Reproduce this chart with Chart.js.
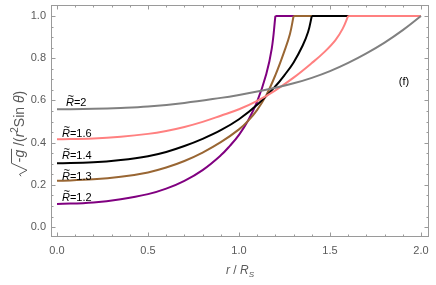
<!DOCTYPE html>
<html>
<head>
<meta charset="utf-8">
<script src="https://cdn.jsdelivr.net/npm/chart.js@4.4.0/dist/chart.umd.min.js"></script>
<style>
  html, body { margin: 0; padding: 0; background: #fff; }
  #wrap { width: 436px; height: 285px; }
</style>
</head>
<body>
<div id="wrap"><canvas id="myChart" width="436" height="285"></canvas></div>
<script>
// values (r / R_S , sqrt(-g)/(r^2 sin th))
const rPurple = [0, 0.2, 0.35, 0.5, 0.6, 0.7, 0.8, 0.9, 0.95, 1.0, 1.05, 1.1, 1.15, 1.18, 1.2, 2.0];
const vPurple = [0.109, 0.117, 0.132, 0.156, 0.182, 0.219, 0.27, 0.34, 0.385, 0.437, 0.505, 0.595, 0.725, 0.845, 1.0, 1.0];

const rBrown = [0, 0.2, 0.35, 0.5, 0.6, 0.7, 0.8, 0.9, 1.0, 1.05, 1.1, 1.15, 1.2, 1.25, 1.28, 1.3, 2.0];
const vBrown = [0.219, 0.226, 0.238, 0.259, 0.282, 0.313, 0.353, 0.402, 0.463, 0.503, 0.555, 0.625, 0.72, 0.835, 0.915, 1.0, 1.0];

const rBlack = [0, 0.2, 0.35, 0.5, 0.6, 0.7, 0.8, 0.9, 1.0, 1.1, 1.2, 1.25, 1.3, 1.35, 1.38, 1.4, 2.0];
const vBlack = [0.302, 0.307, 0.318, 0.336, 0.356, 0.384, 0.418, 0.459, 0.511, 0.579, 0.667, 0.72, 0.78, 0.86, 0.925, 1.0, 1.0];

const rPink = [0, 0.2, 0.35, 0.5, 0.6, 0.7, 0.8, 0.9, 1.0, 1.1, 1.2, 1.3, 1.4, 1.47, 1.53, 1.57, 1.6, 2.0];
const vPink = [0.416, 0.42, 0.428, 0.4415, 0.4555, 0.4745, 0.4985, 0.5275, 0.558, 0.598, 0.648, 0.708, 0.777, 0.83, 0.886, 0.94, 1.0, 1.0];

const rGray = [0, 0.2, 0.35, 0.5, 0.7, 0.9, 1.0, 1.1, 1.2, 1.3, 1.4, 1.5, 1.6, 1.7, 1.8, 1.9, 2.0];
const vGray = [0.558, 0.56, 0.564, 0.571, 0.588, 0.612, 0.626, 0.642, 0.66, 0.681, 0.707, 0.739, 0.778, 0.823, 0.874, 0.933, 1.0];

const xTicks = [0, 0.5, 1.0, 1.5, 2.0];
const yTicks = [0, 0.2, 0.4, 0.6, 0.8, 1.0];

const curveLabels = ['2', '1.6', '1.4', '1.3', '1.2'];

const pts = (xs, ys) => xs.map((x, i) => ({ x: x, y: ys[i] }));

const series = [
  { data: pts(rGray, vGray), color: '#808080' },
  { data: pts(rPink, vPink), color: '#ff8080' },
  { data: pts(rBlack, vBlack), color: '#000000' },
  { data: pts(rBrown, vBrown), color: '#996633' },
  { data: pts(rPurple, vPurple), color: '#800080' }
];

// each curve: smooth rising part up to where it first hits 1, then straight plateau
let datasets = [];
series.forEach(s => {
  let k = s.data.findIndex(p => p.y >= 1);
  datasets.push({ data: s.data.slice(0, k + 1), borderColor: s.color, borderWidth: 2,
                  pointRadius: 0, fill: false, tension: 0.4 });
  if (k < s.data.length - 1) {
    datasets.push({ data: s.data.slice(k), borderColor: s.color, borderWidth: 2,
                    pointRadius: 0, fill: false, tension: 0 });
  }
});

const labelPos = [[66, 106], [62, 137], [62, 159], [62, 180], [62, 201]];

const framePlugin = {
  id: 'frame',
  afterDraw(chart) {
    const c = chart.ctx;
    const a = chart.chartArea;
    const xs = chart.scales.x, ys = chart.scales.y;
    c.save();
    c.strokeStyle = '#9a9a9a';
    c.lineWidth = 1;
    c.strokeRect(a.left + 0.5, a.top + 0.5, a.right - a.left - 1, a.bottom - a.top - 1);
    c.beginPath();
    for (let i = 0; i <= 20; i++) {
      const v = i / 10;
      const px = Math.round(xs.getPixelForValue(v)) + 0.5;
      const len = (i % 5 === 0) ? 4.5 : 2.5;
      c.moveTo(px, a.bottom); c.lineTo(px, a.bottom - len);
      c.moveTo(px, a.top); c.lineTo(px, a.top + len);
    }
    for (let i = 0; i <= 20; i++) {
      const v = i / 20;
      const py = Math.round(ys.getPixelForValue(v)) + 0.5;
      const len = (i % 4 === 0) ? 4.5 : 2.5;
      c.moveTo(a.left, py); c.lineTo(a.left + len, py);
      c.moveTo(a.right, py); c.lineTo(a.right - len, py);
    }
    c.stroke();

    // tick labels
    c.fillStyle = '#5a5a5a';
    c.font = '11px "Liberation Sans", Arial, sans-serif';
    c.textAlign = 'center';
    c.textBaseline = 'middle';
    xTicks.forEach(v => c.fillText(v.toFixed(1), xs.getPixelForValue(v), 251));
    c.textAlign = 'right';
    yTicks.forEach(v => c.fillText(v.toFixed(1), 46, ys.getPixelForValue(v)));

    // x title: r / R_S
    c.textAlign = 'left';
    c.textBaseline = 'alphabetic';
    const it = 'italic 11px "Liberation Sans", Arial, sans-serif';
    const rg = '11px "Liberation Sans", Arial, sans-serif';
    const xIt = 'italic 12px "Liberation Sans", Arial, sans-serif';
    const xRg = '12px "Liberation Sans", Arial, sans-serif';
    const sub = 'italic 8px "Liberation Sans", Arial, sans-serif';
    const parts = [[xIt, 'r', 0], [xRg, ' / ', 0], [xIt, 'R', 0], [sub, 'S', 3]];
    let w = 0;
    parts.forEach(p => { c.font = p[0]; w += c.measureText(p[1]).width; });
    let x0 = 240 - w / 2;
    parts.forEach(p => { c.font = p[0]; c.fillText(p[1], x0, 274 + p[2]); x0 += c.measureText(p[1]).width; });

    // y title: sqrt(-g) /(r^2 Sin th), radical drawn as a stroke
    c.save();
    c.translate(24, 134);
    c.rotate(-Math.PI / 2);
    const tRg = '14px "Liberation Sans", Arial, sans-serif';
    const tIt = 'italic 14px "Liberation Sans", Arial, sans-serif';
    const sup = '10px "Liberation Sans", Arial, sans-serif';
    const radW = 15;
    const yparts = [[tRg, '-', 0], [tIt, 'g', 0], [tRg, ' /(', 0], [tIt, 'r', 0],
                    [sup, '2', -6], [tRg, 'Sin ', 0], [tIt, '\u03B8', 0], [tRg, ')', 0]];
    w = radW;
    yparts.forEach(p => { c.font = p[0]; w += c.measureText(p[1]).width; });
    x0 = -w / 2;
    const rx = x0;
    x0 += radW;
    let barEnd = 0;
    yparts.forEach((p, i) => {
      c.font = p[0];
      c.fillText(p[1], x0, p[2]);
      x0 += c.measureText(p[1]).width;
      if (i === 1) barEnd = x0;
    });
    c.strokeStyle = '#5a5a5a';
    c.lineWidth = 1;
    c.beginPath();
    c.moveTo(rx + 1, -3);
    c.lineTo(rx + 3, -4.5);
    c.lineTo(rx + 7, 3);
    c.lineTo(rx + radW - 1, -12.5);
    c.lineTo(barEnd + 1, -12.5);
    c.stroke();
    c.restore();

    // curve labels
    c.fillStyle = '#000';
    curveLabels.forEach((t, i) => {
      let lx = labelPos[i][0];
      const ly = labelPos[i][1];
      c.font = it;
      c.fillText('R', lx, ly);
      const rw = c.measureText('R').width;
      c.font = rg;
      c.fillText('~', lx + 1.5, ly - 6.5);
      c.fillText('=' + t, lx + rw, ly);
    });
    c.font = rg;
    c.textAlign = 'center';
    c.fillText('(f)', 404, 85);
    c.restore();
  }
};

const ctx = document.getElementById('myChart');

new Chart(ctx, {
  type: 'line',
  data: { datasets: datasets },
  options: {
    responsive: false,
    animation: false,
    layout: { padding: { left: 51, right: 7, top: 5, bottom: 48 } },
    plugins: { legend: { display: false }, tooltip: { enabled: false } },
    scales: {
      x: { type: 'linear', min: -0.033, max: 2.044, display: false },
      y: { type: 'linear', min: -0.047, max: 1.052, display: false }
    }
  },
  plugins: [framePlugin]
});
</script>
</body>
</html>
